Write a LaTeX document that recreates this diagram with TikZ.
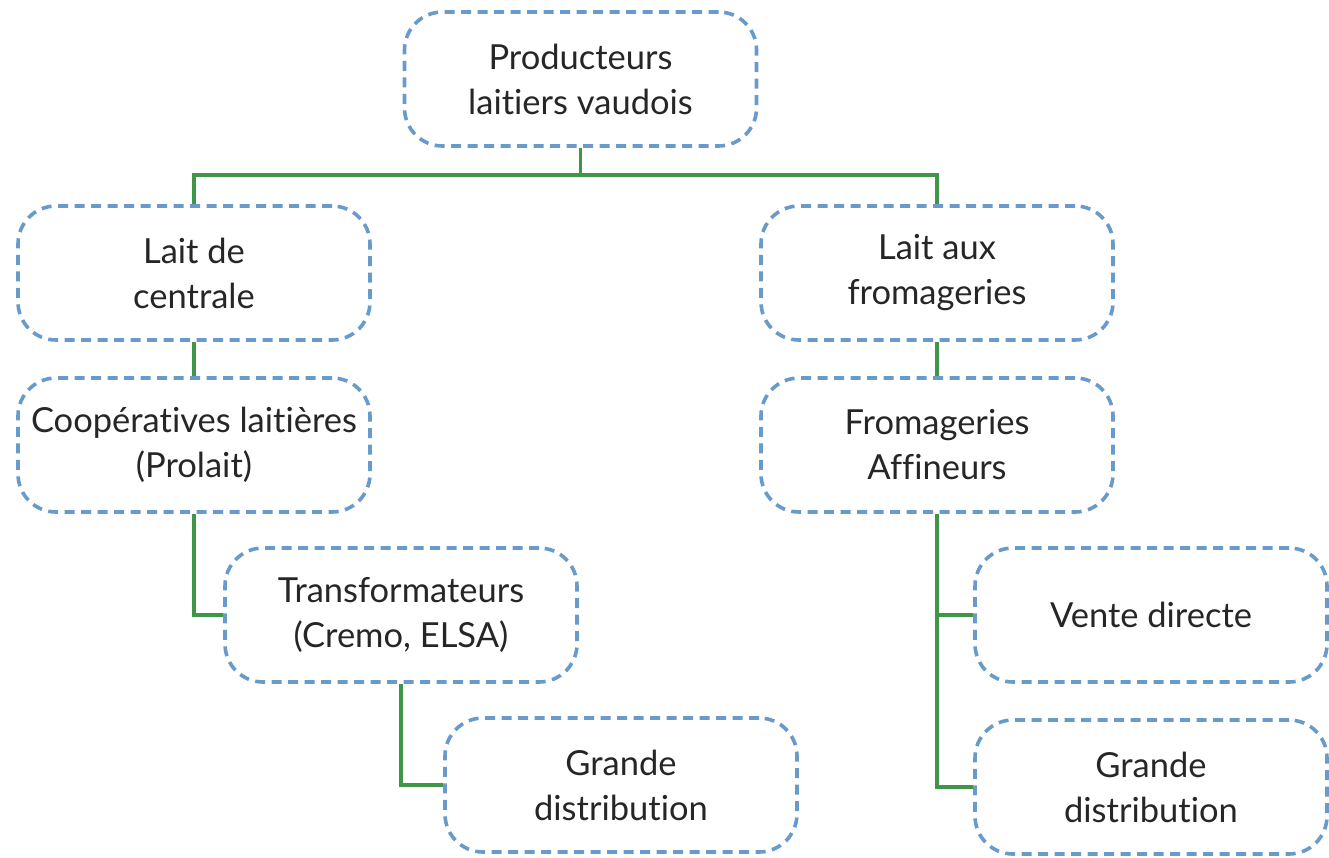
\documentclass[tikz,border=0pt]{standalone}
\usepackage{fontspec}
\setmainfont{Lato}[Ligatures=NoCommon]
\begin{document}
\begin{tikzpicture}[x=1pt,y=-1pt,
  box/.style={draw=boxblue, line width=3.6pt, dash pattern=on 10pt off 6.5pt,
    rounded corners=38pt, minimum width=352pt, minimum height=134pt,
    align=center, font=\fontsize{34.5}{45}\selectfont, text=black!85, inner sep=0pt},
  link/.style={draw=linkgreen, line width=3.2pt}]
\definecolor{boxblue}{RGB}{104,154,204}
\definecolor{linkgreen}{RGB}{64,150,72}
\useasboundingbox (0,0) rectangle (1329,857);
\node[box] (top) at (580.5,79) {Producteurs\\laitiers vaudois};
\node[box] (lc) at (194,273) {Lait de\\centrale};
\node[box] (lf) at (937,273) {Lait aux\\fromageries};
\node[box] (coop) at (194,445) {Coopératives laitières\\(Prolait)};
\node[box] (fro) at (937,445) {Fromageries\\Affineurs};
\node[box] (tr) at (401,615) {Transformateurs\\(Cremo, ELSA)};
\node[box] (vd) at (1151,615) {Vente directe};
\node[box] (gdl) at (621,785) {Grande\\distribution};
\node[box] (gdr) at (1151,787) {Grande\\distribution};
\coordinate (bus) at (580.5,175);
\draw[link] (top.south) -- (bus);
\draw[link] (lc.north) |- (bus) -| (lf.north);
\draw[link] (lc.south) -- (coop.north);
\draw[link] (lf.south) -- (fro.north);
\draw[link] (coop.south) |- (tr.west);
\draw[link] (tr.south) |- (gdl.west);
\draw[link] (fro.south) |- (gdr.west);
\draw[link] (fro.south |- vd.west) -- (vd.west);
\end{tikzpicture}
\end{document}
